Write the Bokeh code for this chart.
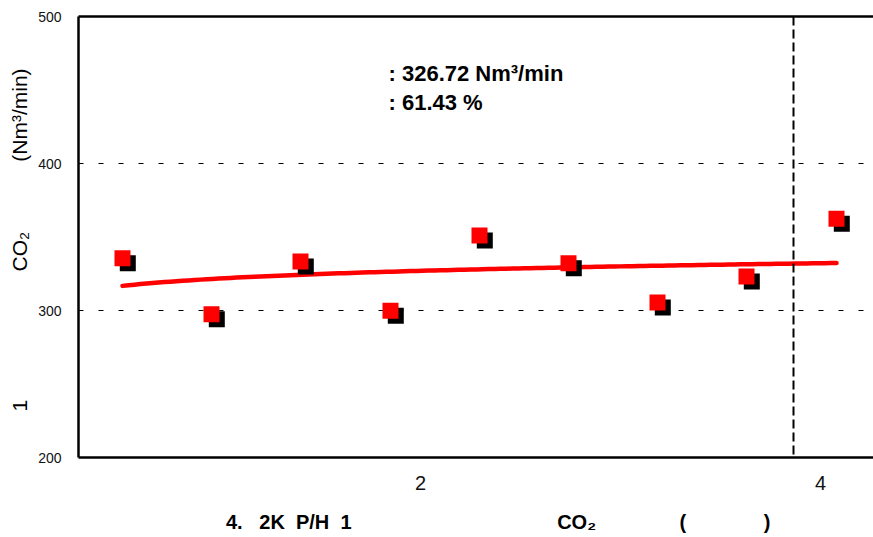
import numpy as np
from bokeh.plotting import figure
from bokeh.models import Range1d, LinearAxis, FixedTicker, Span, Label, ColumnDataSource
from bokeh.transform import dodge
from bokeh.embed import file_html
from bokeh.resources import INLINE

# CO2 flow per run (Nm3/min)
run_x = [0.51, 0.955, 1.40, 1.85, 2.295, 2.74, 3.185, 3.63, 4.08]
co2_flow = [335.5, 297.4, 333.4, 299.8, 351.1, 332.1, 305.5, 323.2, 362.48]
ratio_pct = 61.43

y_ticks = [200, 300, 400, 500]
x_ticks = [2, 4]
divider_x = 3.865

FONT = "Liberation Sans"
NB = "\u00a0"  # non-collapsing space for spreading the title pieces


def gap(n):
    return NB * n


y_title = "1" + gap(22) + "CO₂" + gap(12) + "(Nm³/min)" + gap(1)
x_title = (gap(8) + "4." + gap(3) + "2K" + gap(2) + "P/H" + gap(2) + "1" + gap(37)
           + "CO₂" + gap(15) + "(" + gap(14) + ")")

p = figure(width=873, height=537, output_backend="svg", toolbar_location=None,
           x_range=Range1d(0.29, 4.265), y_range=Range1d(200, 500),
           min_border_left=78, min_border_right=0, min_border_top=16, min_border_bottom=80)
p.outline_line_color = None
p.background_fill_color = "white"
p.border_fill_color = "white"

# left axis
ya = p.yaxis[0]
ya.ticker = FixedTicker(ticks=y_ticks)
ya.axis_line_width = 2.5
ya.axis_line_color = "black"
ya.major_tick_line_color = None
ya.minor_tick_line_color = None
ya.major_label_text_font = FONT
ya.major_label_text_font_size = "14px"
ya.major_label_text_color = "#111111"
ya.major_label_standoff = 11
ya.axis_label = y_title
ya.axis_label_text_font = FONT
ya.axis_label_text_font_style = "normal"
ya.axis_label_text_font_size = "21px"
ya.axis_label_text_color = "black"
ya.axis_label_standoff = 4

# bottom axis
xa = p.xaxis[0]
xa.ticker = FixedTicker(ticks=x_ticks)
xa.axis_line_width = 2.5
xa.axis_line_color = "black"
xa.major_tick_line_color = None
xa.minor_tick_line_color = None
xa.major_label_text_font = FONT
xa.major_label_text_font_size = "20px"
xa.major_label_text_color = "#111111"
xa.major_label_standoff = 12
xa.axis_label = x_title
xa.axis_label_text_font = FONT
xa.axis_label_text_font_style = "bold"
xa.axis_label_text_font_size = "20px"
xa.axis_label_text_color = "black"
xa.axis_label_standoff = 18

# top border line
top = LinearAxis(ticker=FixedTicker(ticks=[]), axis_line_width=2.5, axis_line_color="black",
                 major_tick_line_color=None, minor_tick_line_color=None,
                 major_label_text_font_size="0px")
p.add_layout(top, "above")

# grid
p.xgrid.visible = False
p.ygrid.ticker = FixedTicker(ticks=[300, 400])
p.ygrid.grid_line_color = "black"
p.ygrid.grid_line_width = 1
p.ygrid.grid_line_dash = "5 15"

p.add_layout(Span(location=divider_x, dimension="height", line_color="black",
                  line_width=2, line_dash="9 4"))

# logarithmic trend through the runs
b, a = np.polyfit(np.log(run_x), co2_flow, 1)
tx = np.linspace(min(run_x), max(run_x), 120)
p.line(tx, a + b * np.log(tx), line_color="#ff0000", line_width=4.5, line_cap="round")

src = ColumnDataSource(dict(x=run_x, y=co2_flow))
p.scatter(x=dodge("x", 0.0265, range=p.x_range), y=dodge("y", -3.4, range=p.y_range),
          source=src, marker="square", size=16, fill_color="black", line_color=None)
p.scatter(x="x", y="y", source=src, marker="square", size=16,
          fill_color="#ff0000", line_color=None)

# summary text
mean_flow = float(np.mean(co2_flow))
for txt, yy in [(f": {mean_flow:.2f} Nm³/min", 384), (f": {ratio_pct:.2f} %", 355)]:
    p.add_layout(Label(x=310, y=yy, x_units="screen", y_units="screen", text=txt,
                       text_font=FONT, text_font_style="bold", text_font_size="22px",
                       text_color="black", text_baseline="alphabetic", text_align="left"))

open("out.html", "w").write(file_html(p, INLINE))
